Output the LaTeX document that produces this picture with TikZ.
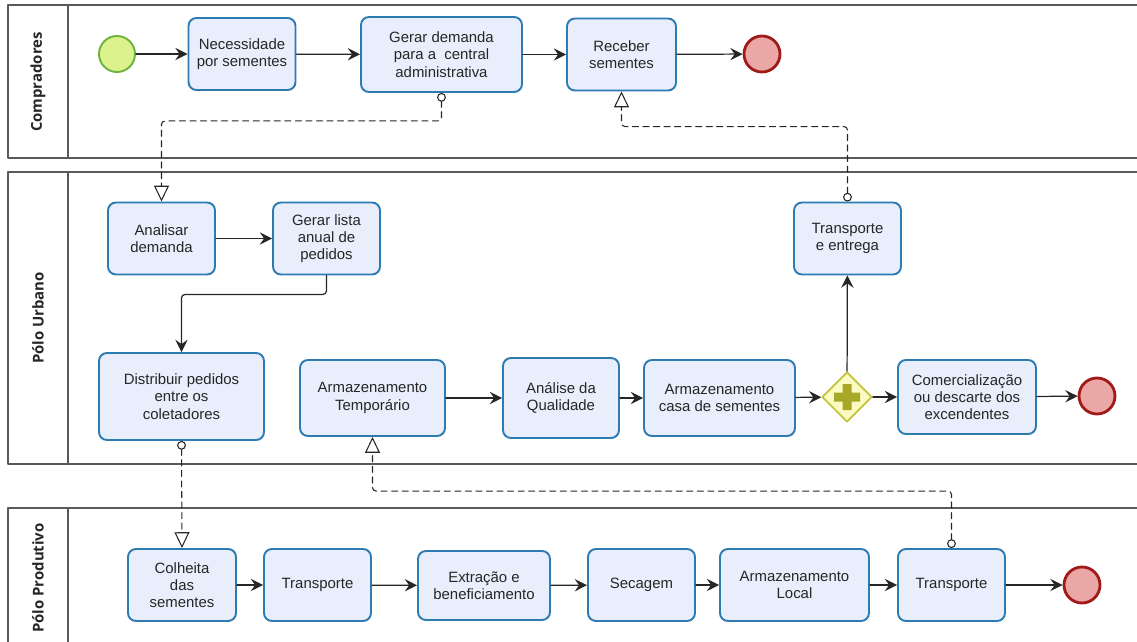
\documentclass[tikz,border=0pt]{standalone}
\usepackage{fontspec}
\setmainfont{Liberation Sans}
\newfontfamily\lanefont{Open Sans}
\usetikzlibrary{arrows.meta,shapes.geometric}
\definecolor{taskfill}{HTML}{E8EEFB}
\definecolor{taskline}{HTML}{2E7BB1}
\definecolor{startfill}{HTML}{DCF28C}
\definecolor{startline}{HTML}{6DB33F}
\definecolor{endfill}{HTML}{EBA6A6}
\definecolor{endline}{HTML}{A11A1A}
\definecolor{gwfill}{HTML}{FAFAC2}
\definecolor{gwline}{HTML}{C4C43C}
\definecolor{gwplus}{HTML}{A8A828}
\tikzset{
  task/.style={draw=taskline,fill=taskfill,line width=1.1pt,rounded corners=4.5pt,
    align=center,minimum width=2.14cm,minimum height=1.44cm,inner sep=2pt,
    font=\fontsize{8.5}{9.8}\selectfont,text=black!85},
  startev/.style={circle,draw=startline,fill=startfill,line width=1.1pt,minimum size=0.72cm,inner sep=0pt},
  endev/.style={circle,draw=endline,fill=endfill,line width=1.6pt,minimum size=0.72cm,inner sep=0pt},
  gateway/.style={diamond,draw=gwline,fill=gwfill,line width=1pt,minimum size=1cm,inner sep=0pt},
  seqflow/.style={draw=black!85,line width=0.7pt,-{Stealth[length=7pt,width=7pt,inset=2.5pt]}},
  msgflow/.style={draw=black!85,line width=0.6pt,dash pattern=on 3.5pt off 2.5pt,rounded corners=2pt,
    {Circle[open,length=5pt,width=5pt,fill=white]}-{Triangle[open,length=9pt,width=8.5pt,fill=white]}},
  lane/.style={draw=black!65,line width=1.1pt},
  lanetitle/.style={rotate=90,text=black!85,font=\lanefont\bfseries\fontsize{8.5}{10}\selectfont}
}
\begin{document}
\begin{tikzpicture}[x=0.02cm,y=-0.02cm,line cap=round,line join=round]
  \clip (0,0) rectangle (1137,642);
  % Lanes.
  \draw[lane] (8,5) rectangle (1150,158) (68,5)--(68,158);
  \draw[lane] (8,172) rectangle (1150,464) (68,172)--(68,464);
  \draw[lane] (8,508) rectangle (1150,650) (68,508)--(68,650);
  \node[lanetitle] (tcomp) at (38,82) {Compradores};
  \node[lanetitle] (turb) at (38,318) {Pólo Urbano};
  \node[lanetitle] (tprod) at (38,578) {Pólo Produtivo};
  % Compradores.
  \node[startev] (start1) at (117,54) {};
  \node[task] (necess) at (242,54) {Necessidade\\por sementes};
  \node[task,minimum width=3.22cm,minimum height=1.5cm] (gerar) at (441.5,54.5) {Gerar demanda\\para a~ central\\administrativa};
  \node[task,minimum width=2.18cm] (receber) at (621.5,54.5) {Receber\\sementes};
  \node[endev] (end1) at (762,54) {};
  % Polo Urbano.
  \node[task] (analisar) at (161.5,238.5) {Analisar\\demanda};
  \node[task] (lista) at (326.5,238.5) {Gerar lista\\anual de\\pedidos};
  \node[task] (entrega) at (847.5,238.5) {Transporte\\e entrega};
  \node[task,minimum width=3.3cm,minimum height=1.74cm] (distribuir) at (181.5,396.5) {Distribuir pedidos\\entre os\\coletadores};
  \node[task,minimum width=2.9cm,minimum height=1.52cm] (armtemp) at (372.5,398) {Armazenamento\\Temporário};
  \node[task,minimum width=2.32cm,minimum height=1.6cm] (qualidade) at (561,398) {Análise da\\Qualidade};
  \node[task,minimum width=3.02cm,minimum height=1.52cm] (armcasa) at (719.5,398) {Armazenamento\\casa de sementes};
  \node[gateway] (gw) at (847,397) {};
  \fill[gwplus,shift={(gw.center)}] (-13,-4.5) rectangle (13,4.5) (-4.5,-13) rectangle (4.5,13);
  \node[task,minimum width=2.76cm,minimum height=1.48cm] (comerc) at (967,397) {Comercialização\\ou descarte dos\\excendentes};
  \node[endev] (end2) at (1097,396) {};
  % Polo Produtivo.
  \node[task,minimum width=2.16cm] (colheita) at (182,585) {Colheita\\das\\sementes};
  \node[task] (transp1) at (317.5,585) {Transporte};
  \node[task,minimum width=2.64cm,minimum height=1.38cm] (extracao) at (484,585.5) {Extração e\\beneficiamento};
  \node[task] (secagem) at (641.5,585) {Secagem};
  \node[task,minimum width=2.98cm] (armlocal) at (794.5,585) {Armazenamento\\Local};
  \node[task] (transp2) at (951.5,585) {Transporte};
  \node[endev] (end3) at (1082,585) {};
  % Sequence flows.
  \draw[seqflow] (start1)--(necess);
  \draw[seqflow] (necess)--(gerar);
  \draw[seqflow] (gerar)--(receber);
  \draw[seqflow] (receber)--(end1);
  \draw[seqflow] (analisar)--(lista);
  \draw[seqflow,rounded corners=2pt] (lista.south)--++(0,19)-|(distribuir.north);
  \draw[seqflow] (armtemp)--(qualidade);
  \draw[seqflow] (qualidade)--(armcasa);
  \draw[seqflow] (armcasa)--(gw);
  \draw[seqflow] (gw)--(comerc);
  \draw[seqflow] (gw)--(entrega);
  \draw[seqflow] (comerc)--(end2);
  \draw[seqflow] (colheita)--(transp1);
  \draw[seqflow] (transp1)--(extracao);
  \draw[seqflow] (extracao)--(secagem);
  \draw[seqflow] (secagem)--(armlocal);
  \draw[seqflow] (armlocal)--(transp2);
  \draw[seqflow] (transp2)--(end3);
  % Message flows.
  \draw[msgflow] (gerar.south)--++(0,28)-|(analisar.north);
  \draw[msgflow] (entrega.north)--++(0,-75)-|(receber.south);
  \draw[msgflow] (distribuir.south)--(colheita.north);
  \draw[msgflow] (transp2.north)--++(0,-57)-|(armtemp.south);
\end{tikzpicture}
\end{document}
